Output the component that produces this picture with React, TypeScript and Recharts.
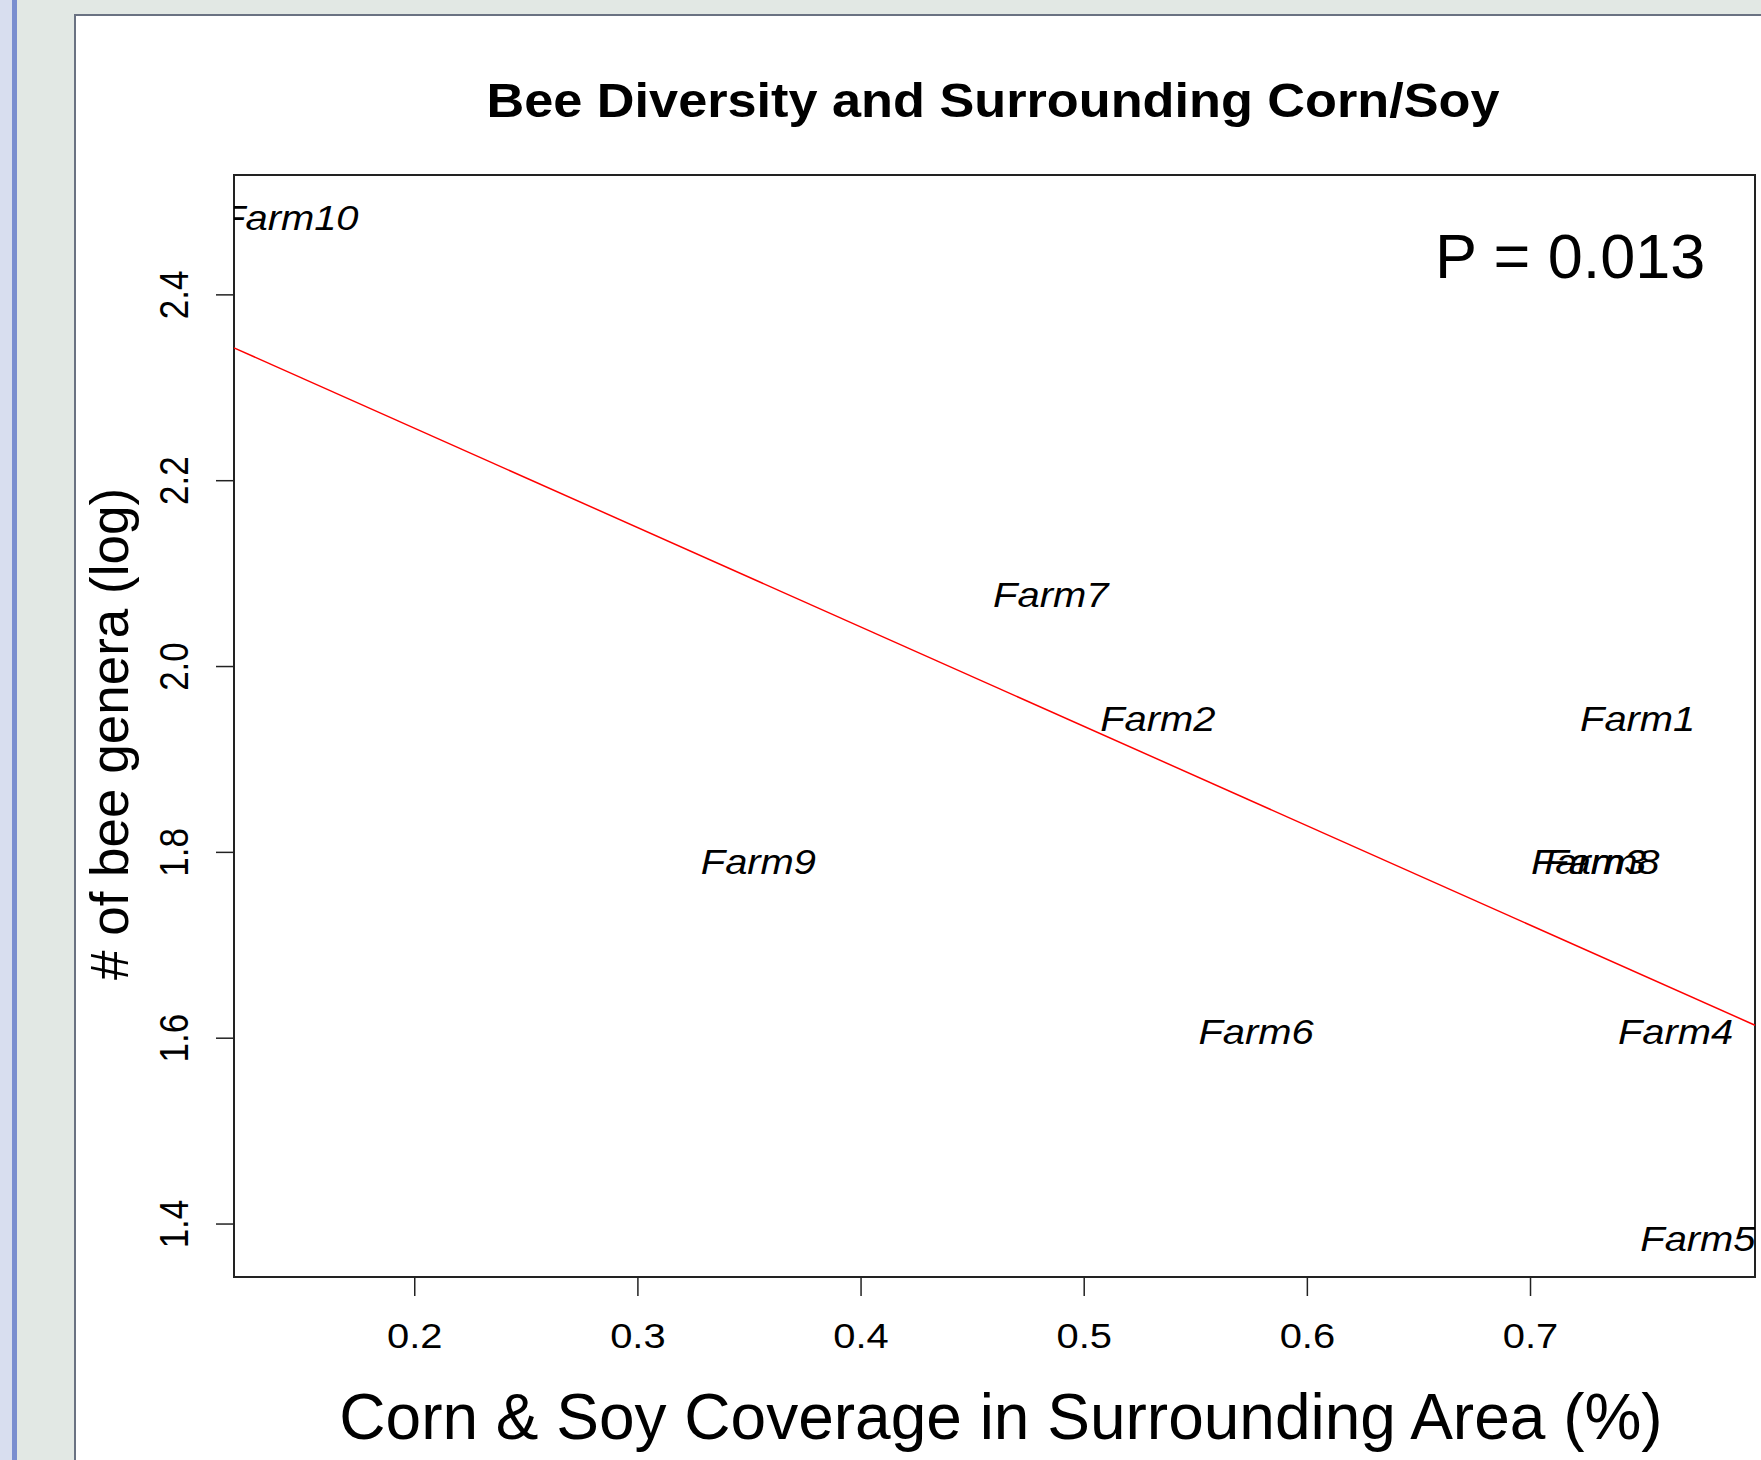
import React from "react";
import {
  ScatterChart,
  Scatter,
  XAxis,
  YAxis,
  ReferenceArea,
  ReferenceLine,
} from "recharts";

// farm labels, coverage (x) and log number of bee genera (y)
const farms = ["Farm1", "Farm2", "Farm3", "Farm4", "Farm5", "Farm6", "Farm7", "Farm8", "Farm9", "Farm10"];
const coverage = [0.748, 0.533, 0.726, 0.765, 0.775, 0.577, 0.485, 0.732, 0.354, 0.144];
const logGenera = [1.946, 1.946, 1.792, 1.609, 1.386, 1.609, 2.079, 1.792, 1.792, 2.485];

// fitted line, read at the plot edges
const trendLine = [
  { x: 0.119, y: 2.343 },
  { x: 0.8006, y: 1.614 },
];

const xTicks = [0.2, 0.3, 0.4, 0.5, 0.6, 0.7];
const yTicks = [1.4, 1.6, 1.8, 2.0, 2.2, 2.4];
const xDomain = [0.119, 0.8006];
const yDomain = [1.343, 2.529];

const points = farms.map((name, i) => ({ name, x: coverage[i], y: logGenera[i] }));

const FONT = "'Liberation Sans', Arial, Helvetica, sans-serif";
const SX = 1.14; // the R picture is stretched sideways a bit

const XTick = ({ x, y, payload }: any) => (
  <g transform={`translate(${x},${y + 37}) scale(${SX},1)`}>
    <text textAnchor="middle" y={12.5} fontSize={35} fontFamily={FONT} fill="#000">
      {Number(payload.value).toFixed(1)}
    </text>
  </g>
);

const YTick = ({ x, y, payload }: any) => (
  <g transform={`translate(${x - 40},${y}) scale(${SX},1) rotate(-90)`}>
    <text textAnchor="middle" y={12.5} fontSize={35} fontFamily={FONT} fill="#000">
      {Number(payload.value).toFixed(1)}
    </text>
  </g>
);

const FarmLabel = ({ cx, cy, payload }: any) => (
  <g transform={`translate(${cx},${cy}) scale(${SX},1)`}>
    <text textAnchor="middle" y={14} fontSize={35} fontStyle="italic" fontFamily={FONT} fill="#000">
      {payload.name}
    </text>
  </g>
);

export default function App() {
  return (
    <div style={{ position: "absolute", left: 0, top: 0, width: 1761, height: 1460, overflow: "hidden", background: "#e2e8e4" }}>
      {/* slide edge */}
      <div style={{ position: "absolute", left: 0, top: 0, width: 12, height: 1460, background: "#d8deef" }} />
      <div style={{ position: "absolute", left: 12, top: 0, width: 5, height: 1460, background: "#7a8ecf" }} />
      <div
        style={{
          position: "absolute",
          left: 74,
          top: 14,
          width: 1700,
          height: 1460,
          background: "#fff",
          borderLeft: "2px solid #6a7282",
          borderTop: "2px solid #6a7282",
        }}
      />

      <div style={{ position: "absolute", left: 0, top: 0 }}>
        <ScatterChart width={1761} height={1460} margin={{ top: 175, right: 6, bottom: 0, left: 0 }}>
          <XAxis
            type="number"
            dataKey="x"
            domain={xDomain}
            allowDataOverflow
            ticks={xTicks}
            interval={0}
            height={183}
            axisLine={false}
            tickSize={19}
            tickLine={{ stroke: "#222", strokeWidth: 1.5 }}
            tick={<XTick />}
          />
          <YAxis
            type="number"
            dataKey="y"
            domain={yDomain}
            allowDataOverflow
            ticks={yTicks}
            interval={0}
            width={234}
            axisLine={false}
            tickSize={18}
            tickLine={{ stroke: "#222", strokeWidth: 1.5 }}
            tick={<YTick />}
          />
          <ReferenceArea
            x1={xDomain[0]}
            x2={xDomain[1]}
            y1={yDomain[0]}
            y2={yDomain[1]}
            fill="none"
            stroke="#222"
            strokeWidth={2}
            ifOverflow="visible"
          />
          <ReferenceLine segment={trendLine} stroke="#ff0000" strokeWidth={1.5} ifOverflow="visible" />
          <Scatter data={points} shape={<FarmLabel />} isAnimationActive={false} />
        </ScatterChart>
      </div>

      {/* titles and annotation */}
      <svg width={1761} height={1460} style={{ position: "absolute", left: 0, top: 0, pointerEvents: "none" }}>
        <text
          x={993}
          y={117}
          textAnchor="middle"
          fontSize={49}
          fontWeight="bold"
          fontFamily={FONT}
          textLength={1013}
          lengthAdjust="spacingAndGlyphs"
          fill="#000"
        >
          Bee Diversity and Surrounding Corn/Soy
        </text>
        <text x={1435} y={278} fontSize={63} fontFamily={FONT} fill="#000">
          P = 0.013
        </text>
        <text x={1001} y={1439} textAnchor="middle" fontSize={64} fontFamily={FONT} fill="#000">
          Corn &amp; Soy Coverage in Surrounding Area (%)
        </text>
        <text
          transform="translate(128,734) rotate(-90)"
          textAnchor="middle"
          fontSize={53}
          fontFamily={FONT}
          fill="#000"
        >
          # of bee genera (log)
        </text>
      </svg>
    </div>
  );
}
